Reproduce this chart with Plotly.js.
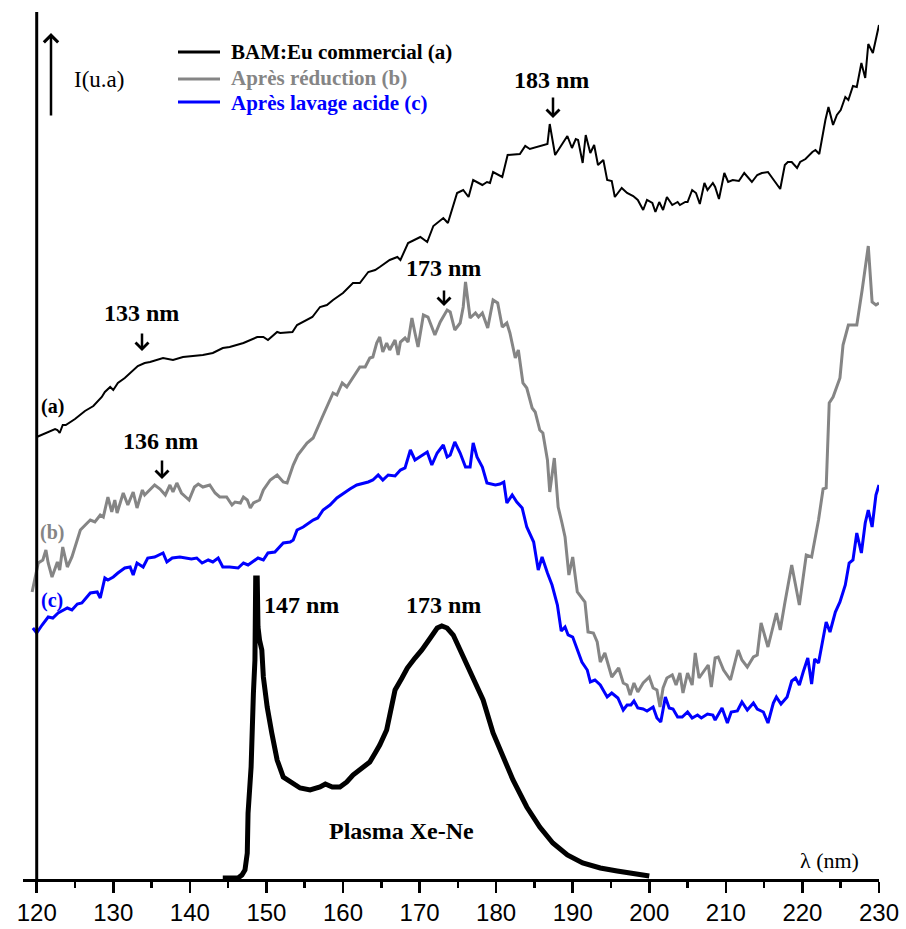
<!DOCTYPE html>
<html>
<head>
<meta charset="utf-8">
<script src="https://cdn.plot.ly/plotly-3.0.1.min.js"></script>
<style>html,body{margin:0;padding:0;background:#fff}#chart{width:906px;height:929px}</style>
</head>
<body>
<div id="chart"></div>
<script>
// Wavelength (nm) and relative intensity (arbitrary units, offset curves)
const waveA = [120.0,122.4,122.7,123.0,123.4,123.8,125.0,126.3,127.4,128.5,128.9,129.6,130.0,130.6,131.5,132.2,133.2,134.1,134.8,136.5,137.8,139.1,140.9,141.7,143.0,144.3,145.2,147.0,148.8,149.6,150.2,151.4,151.8,153.4,154.0,154.8,156.0,157.0,157.9,158.7,160.0,161.3,162.2,163.3,164.2,164.8,166.1,167.1,167.5,168.5,169.2,170.1,171.0,171.8,173.1,173.7,174.9,175.7,176.4,177.0,178.2,178.8,179.2,179.6,180.8,181.5,183.1,183.8,184.4,185.3,186.7,187.0,187.7,189.3,189.9,190.4,190.7,191.3,191.7,192.3,192.8,193.3,194.0,194.5,195.1,195.5,196.4,197.1,197.9,198.5,199.2,199.7,200.4,200.8,201.3,201.8,202.3,203.0,203.7,204.0,204.7,205.0,205.6,206.1,206.6,207.2,207.6,208.3,208.6,209.1,209.8,210.3,210.9,211.7,212.4,213.4,214.1,214.7,215.5,217.1,217.7,218.1,218.6,219.3,219.7,220.4,221.3,221.7,222.2,223.0,223.4,224.0,224.5,225.0,225.6,226.0,226.6,227.1,227.7,228.2,228.6,229.2,230.0];
const intA = [442,450,449,446,454,454,460,468,473,482,487,492,489,496,501,506,513,516,517,521,519,522,523,524,526,531,532,536,542,542,539,547,546,547,554,557,562,572,574,579,586,596,596,607,609,612,619,622,619,636,639,642,637,653,661,656,686,689,682,699,694,697,696,707,702,724,725,733,730,732,735,755,724,743,731,740,739,716,744,726,734,714,719,699,698,682,691,686,683,679,669,679,676,667,677,669,682,674,677,674,677,677,689,686,675,696,689,696,692,680,706,697,699,698,706,697,704,706,707,690,714,717,717,711,717,720,727,729,725,759,772,754,764,769,782,779,793,792,816,801,835,826,854];

const waveB = [119.4,120.2,120.8,121.2,121.5,122.0,122.7,123.0,123.4,124.0,124.6,125.3,125.7,126.6,127.0,127.6,128.3,128.7,129.3,129.8,130.2,130.5,131.3,131.9,132.6,133.1,133.8,134.1,135.1,135.4,136.1,136.8,137.4,137.8,138.3,138.9,139.6,139.9,140.6,141.1,141.7,142.6,143.3,143.9,144.8,145.5,145.9,146.6,147.0,147.5,147.9,148.3,149.1,149.6,150.5,151.4,152.2,152.7,153.5,154.1,155.3,156.1,157.3,158.7,159.2,159.9,160.5,162.2,162.9,163.5,163.9,164.4,164.8,165.2,165.7,166.1,166.8,167.2,167.5,168.1,168.5,169.0,169.4,169.8,170.5,171.1,172.0,172.7,173.6,174.0,174.6,175.3,175.7,176.0,176.6,177.3,177.7,178.2,178.9,179.6,180.2,180.8,181.4,181.8,182.5,182.9,183.5,184.0,184.7,185.1,185.7,186.1,186.7,187.0,187.6,188.1,188.6,189.0,189.5,190.0,190.6,191.6,192.0,192.7,193.2,193.6,194.2,195.1,196.0,196.6,197.1,197.5,198.0,198.5,199.2,200.0,200.5,201.0,201.4,201.8,202.3,203.0,203.5,204.0,204.4,205.0,205.6,206.0,206.5,207.7,208.1,208.6,209.0,209.7,210.6,211.6,212.1,212.8,213.6,214.1,214.6,215.5,216.6,217.1,217.7,218.6,219.6,220.5,221.2,222.1,222.7,223.1,223.5,224.0,224.9,225.3,226.0,227.1,227.8,228.6,229.1,229.6,230.0];
const intB = [287,316,319,329,316,302,317,309,332,312,322,339,349,356,359,357,364,362,382,367,379,366,386,374,387,371,389,384,391,394,390,384,394,387,396,386,381,379,392,395,392,394,386,382,382,374,377,376,382,379,371,376,379,389,399,404,397,396,414,424,436,441,462,486,484,496,492,512,512,521,522,536,542,527,536,529,539,524,537,541,537,561,546,532,564,562,544,557,569,567,549,556,572,597,561,566,562,566,551,579,576,552,556,546,521,529,496,491,471,467,449,446,419,387,421,372,356,342,304,322,287,277,247,246,237,217,226,202,211,196,194,184,196,187,196,202,191,189,172,191,201,204,194,206,186,206,194,226,201,214,192,221,222,209,199,229,219,212,222,224,256,232,266,249,276,314,274,324,322,359,390,391,476,482,501,534,554,554,589,633,577,574,576];

const waveC = [119.5,120.0,120.7,121.5,122.1,122.8,124.0,124.6,125.3,125.9,127.0,127.9,128.3,128.9,129.3,130.0,130.6,131.5,132.2,132.6,133.1,133.9,134.5,135.4,136.5,137.0,137.7,138.7,140.2,140.9,141.6,142.4,143.0,143.7,144.3,145.2,146.3,147.0,147.6,148.9,149.6,150.2,151.1,152.2,153.1,153.5,154.0,154.8,156.1,156.7,157.4,158.3,159.2,160.3,160.9,161.8,163.3,163.9,164.6,165.2,165.9,166.8,167.5,168.1,168.8,169.4,170.5,171.0,171.6,172.3,173.1,173.6,174.0,174.6,175.3,176.0,176.6,177.0,177.5,178.2,178.8,179.9,180.5,181.0,181.4,182.1,182.7,183.4,184.0,184.7,184.9,185.5,186.0,186.7,187.3,188.0,188.5,189.0,189.4,190.0,190.6,191.2,191.9,192.3,192.9,193.6,194.5,195.1,195.9,196.6,197.1,197.6,198.0,198.5,199.2,199.7,200.5,201.0,201.5,202.1,202.6,203.1,203.7,204.3,205.0,205.6,206.3,206.8,207.6,208.3,208.6,209.5,210.2,210.7,211.5,212.1,212.8,213.6,214.1,214.9,215.5,216.2,216.6,217.2,218.0,218.6,219.1,219.6,220.1,220.7,221.2,221.6,222.1,222.7,223.1,223.6,224.3,224.9,225.6,226.1,226.6,227.1,227.7,228.2,228.6,229.1,229.6,230.0];
const intC = [251,246,254,262,261,266,271,269,275,276,286,287,281,301,299,302,306,311,312,304,316,312,321,322,326,317,321,322,320,321,316,319,317,321,312,312,311,316,314,321,319,326,327,336,337,339,349,352,359,361,369,374,381,387,390,394,397,399,404,399,404,403,409,411,429,419,424,427,414,426,434,422,424,437,426,412,412,436,422,412,396,394,395,397,376,384,377,371,352,341,337,309,322,306,294,274,248,252,244,242,229,217,209,197,199,194,182,186,181,169,174,174,178,171,170,168,172,161,157,182,171,170,162,162,167,161,164,161,165,164,159,171,156,167,168,177,169,176,170,167,156,176,182,175,182,198,201,194,207,221,195,220,216,242,257,247,267,277,294,316,319,346,326,356,369,352,384,394];

const wavePlasma = [144.3,146.3,146.8,147.2,147.5,147.6,148.0,148.1,148.3,148.5,148.6,148.8,148.9,149.1,149.4,149.6,150.1,150.7,151.4,152.2,153.4,154.4,155.7,157.0,157.7,158.6,159.6,160.5,161.3,162.6,163.5,164.2,164.8,165.7,166.4,166.8,167.7,168.4,169.4,170.3,171.4,172.3,172.9,173.6,174.4,175.7,177.0,178.3,179.6,180.9,182.2,184.0,185.7,187.4,189.3,191.3,193.6,195.8,197.9,199.5,200.0];
const intPlasma = [1,1,4,9,26,66,112,149,186,219,301,301,252,239,229,202,172,146,119,102,96,91,89,92,95,92,92,97,104,112,117,126,134,149,172,189,201,211,221,229,241,251,253,251,244,222,202,179,146,122,99,72,52,36,24,16,11,8,5,3,3];

const seriesNames = ['BAM:Eu commercial (a)', 'Après réduction (b)', 'Après lavage acide (c)', 'Plasma Xe-Ne'];
const xTicks = [120,130,140,150,160,170,180,190,200,210,220,230];

const GRAY = '#858585', BLUE = '#0000ff', BLACK = '#000000';
const W = 906, H = 929, ML = 23, MR = 27, MT = 12, MB = 50;
const PW = W - ML - MR, PH = H - MT - MB;
const px = x => (x - ML) / PW;
const py = y => (H - MB - y) / PH;
const SERIF = 'Liberation Serif, Times New Roman, serif';

const traces = [
  {x: wavePlasma, y: intPlasma, name: seriesNames[3], mode: 'lines', line: {color: BLACK, width: 5}},
  {x: waveA, y: intA, name: seriesNames[0], mode: 'lines', line: {color: BLACK, width: 2}},
  {x: waveB, y: intB, name: seriesNames[1], mode: 'lines', line: {color: GRAY, width: 3}},
  {x: waveC, y: intC, name: seriesNames[2], mode: 'lines', line: {color: BLUE, width: 3}}
];

function txt(x, y, t, size, color, bold, xanchor) {
  return {xref: 'paper', yref: 'paper', x: px(x), y: py(y), text: bold ? '<b>' + t + '</b>' : t,
    showarrow: false, xanchor: xanchor || 'center', yanchor: 'middle',
    font: {family: SERIF, size: size, color: color}};
}
function arrow(x, yHead, yTail, width, size) {
  return {xref: 'paper', yref: 'paper', x: px(x), y: py(yHead), ax: 0, ay: yTail - yHead, text: '',
    showarrow: true, arrowhead: 4, arrowwidth: width || 2.5, arrowsize: size || 1, arrowcolor: BLACK};
}

const annotations = [
  txt(551, 80, '183 nm', 24, BLACK, true), arrow(553, 118, 96),
  txt(141, 313, '133 nm', 24, BLACK, true), arrow(142, 351, 332),
  txt(160, 441, '136 nm', 24, BLACK, true), arrow(162, 479, 459),
  txt(443, 268, '173 nm', 24, BLACK, true), arrow(444, 306, 289),
  txt(301, 605, '147 nm', 24, BLACK, true),
  txt(443, 605, '173 nm', 24, BLACK, true),
  txt(401, 831, 'Plasma Xe-Ne', 24, BLACK, true),
  txt(52, 406, '(a)', 20, BLACK, true),
  txt(52, 532, '(b)', 20, GRAY, true),
  txt(52, 600, '(c)', 20, BLUE, true),
  txt(72, 79, 'I(u.a)', 23, BLACK, false, 'left'),
  arrow(51, 33, 117, 2.5, 1.1),
  txt(829, 860, 'λ (nm)', 22, BLACK, false),
  txt(229, 52, seriesNames[0], 21, BLACK, true, 'left'),
  txt(229, 78, seriesNames[1], 21, GRAY, true, 'left'),
  txt(229, 103, seriesNames[2], 21, BLUE, true, 'left')
];

const shapes = [
  {type: 'line', xref: 'x', yref: 'paper', x0: 120, x1: 120, y0: 0, y1: 1, line: {color: BLACK, width: 3}},
  {type: 'line', xref: 'paper', yref: 'paper', x0: px(178), x1: px(220), y0: py(52), y1: py(52), line: {color: BLACK, width: 3}},
  {type: 'line', xref: 'paper', yref: 'paper', x0: px(178), x1: px(220), y0: py(79), y1: py(79), line: {color: GRAY, width: 3}},
  {type: 'line', xref: 'paper', yref: 'paper', x0: px(178), x1: px(220), y0: py(102), y1: py(102), line: {color: BLUE, width: 3}}
];

const layout = {
  width: W, height: H,
  margin: {l: ML, r: MR, t: MT, b: MB, pad: 0},
  paper_bgcolor: '#fff', plot_bgcolor: '#fff',
  showlegend: false,
  xaxis: {
    range: [118.21, 230], tickmode: 'array', tickvals: xTicks, ticktext: xTicks.map(String),
    showgrid: false, zeroline: false, showline: true, linecolor: BLACK, linewidth: 2.5,
    ticks: 'outside', ticklen: 11, tickwidth: 2.5, tickcolor: BLACK,
    minor: {dtick: 5, tick0: 120, ticks: 'outside', ticklen: 6, tickwidth: 2.5, tickcolor: BLACK, showgrid: false},
    tickfont: {family: 'Liberation Sans, Arial, sans-serif', size: 24, color: BLACK}
  },
  yaxis: {range: [0, PH], showgrid: false, zeroline: false, showline: false, showticklabels: false, ticks: ''},
  annotations: annotations,
  shapes: shapes
};

Plotly.newPlot('chart', traces, layout, {staticPlot: true, displayModeBar: false});
</script>
</body>
</html>
